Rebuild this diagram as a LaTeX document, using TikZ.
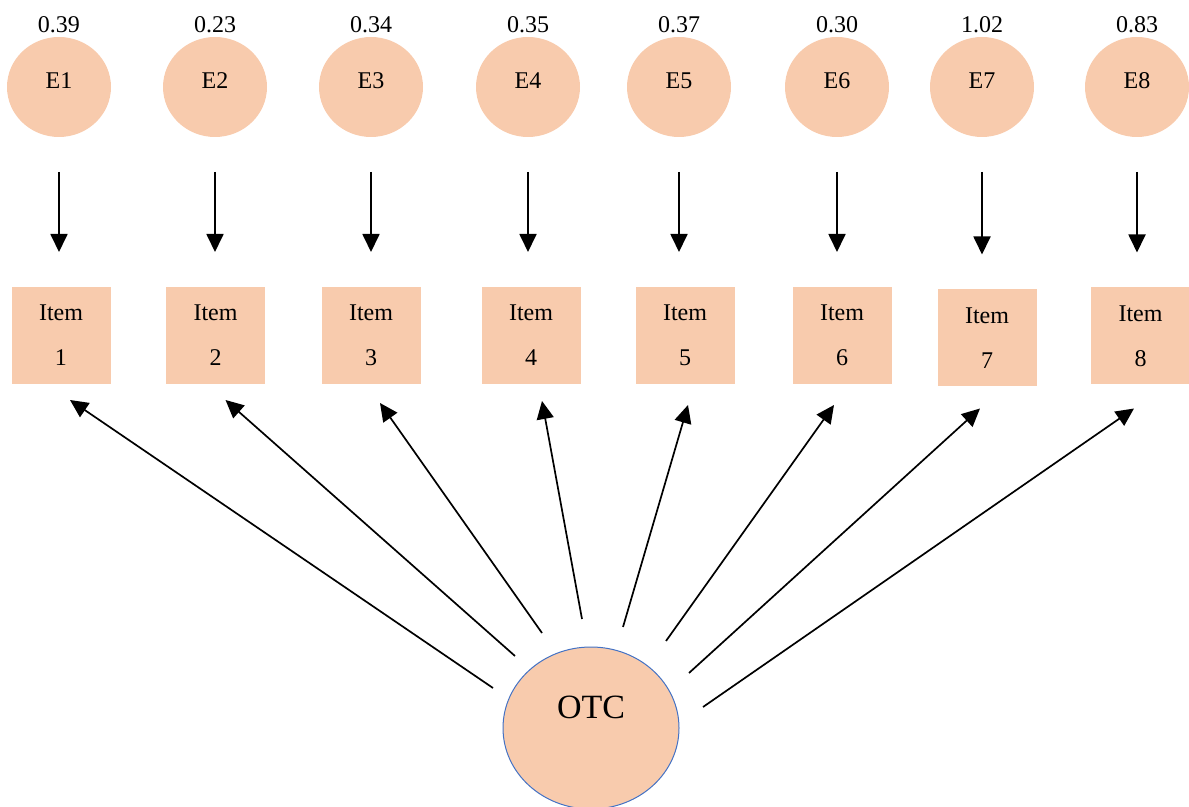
\documentclass[tikz,border=0pt]{standalone}
\usepackage{fontspec}
\setmainfont{Liberation Serif}
\usetikzlibrary{positioning,arrows.meta,shapes.geometric}
\definecolor{peach}{HTML}{F8CBAD}
\definecolor{rim}{HTML}{4472C4}
\tikzset{
    font = \fontsize{12}{14}\selectfont,
    every node/.style = {
        inner sep = 0pt,
        outer sep = 0pt
    },
    err/.style = {
        ellipse,
        fill = peach,
        minimum width = 52pt,
        minimum height = 50pt,
        text depth = 6pt
    },
    item/.style = {
        rectangle,
        fill = peach,
        minimum width = 49.5pt,
        minimum height = 48.5pt,
        align = center,
        font = \fontsize{12}{22.5}\selectfont
    },
    factor/.style = {
        ellipse,
        fill = peach,
        draw = rim,
        line width = 0.5pt,
        minimum width = 88pt,
        minimum height = 81pt,
        text depth = 21pt,
        font = \fontsize{17}{20}\selectfont
    },
    resid/.style = {
        -{Triangle[length=9pt,width=8.5pt]},
        line width = 0.9pt,
        shorten < = 17.5pt,
        shorten > = 17.5pt
    },
    load/.style = {
        -{Triangle[length=9pt,width=8.5pt]},
        line width = 0.85pt
    }
}

\begin{document}
\begin{tikzpicture}[x=0.5pt, y=-0.5pt]
    \useasboundingbox (0,0) rectangle (1189,807);
    % error terms
    \node (e1) at (59,87)   [err]{E1};
    \node (e2) at (215,87)  [err]{E2};
    \node (e3) at (371,87)  [err]{E3};
    \node (e4) at (528,87)  [err]{E4};
    \node (e5) at (679,87)  [err]{E5};
    \node (e6) at (837,87)  [err]{E6};
    \node (e7) at (982,87)  [err]{E7};
    \node (e8) at (1137,87) [err]{E8};
    % error variances
    \node (v1) [above=2pt of e1]{0.39};
    \node (v2) [above=2pt of e2]{0.23};
    \node (v3) [above=2pt of e3]{0.34};
    \node (v4) [above=2pt of e4]{0.35};
    \node (v5) [above=2pt of e5]{0.37};
    \node (v6) [above=2pt of e6]{0.30};
    \node (v7) [above=2pt of e7]{1.02};
    \node (v8) [above=2pt of e8]{0.83};
    % items
    \node (i1) at (61,335.5)   [item]{Item\\1};
    \node (i2) at (215.5,335.5)[item]{Item\\2};
    \node (i3) at (371,335.5)  [item]{Item\\3};
    \node (i4) at (531,335.5)  [item]{Item\\4};
    \node (i5) at (685,335.5)  [item]{Item\\5};
    \node (i6) at (842,335.5)  [item]{Item\\6};
    \node (i7) at (987,338)    [item]{Item\\7};
    \node (i8) at (1140.5,336) [item]{Item\\8};
    % latent factor
    \node (otc) at (591,728) [factor]{OTC};
    % error paths
    \draw[resid] (e1.south) to (e1.south |- i1.north);
    \draw[resid] (e2.south) to (e2.south |- i2.north);
    \draw[resid] (e3.south) to (e3.south |- i3.north);
    \draw[resid] (e4.south) to (e4.south |- i4.north);
    \draw[resid] (e5.south) to (e5.south |- i5.north);
    \draw[resid] (e6.south) to (e6.south |- i6.north);
    \draw[resid] (e7.south) to (e7.south |- i7.north);
    \draw[resid] (e8.south) to (e8.south |- i8.north);
    % loadings
    \coordinate (t1) at (493,688);
    \coordinate (t2) at (515,656);
    \coordinate (t3) at (542,633);
    \coordinate (t4) at (582,619);
    \coordinate (t5) at (623,627);
    \coordinate (t6) at (666,641);
    \coordinate (t7) at (689,673);
    \coordinate (t8) at (703,707);
    \draw[load] (t1) to ([xshift=4.5pt,yshift=-8pt]i1.south);
    \draw[load] (t2) to ([xshift=5pt,yshift=-8pt]i2.south);
    \draw[load] (t3) to ([xshift=4.5pt,yshift=-9.5pt]i3.south);
    \draw[load] (t4) to ([xshift=5.5pt,yshift=-8.5pt]i4.south);
    \draw[load] (t5) to ([xshift=1.5pt,yshift=-10.5pt]i5.south);
    \draw[load] (t6) to ([xshift=-4pt,yshift=-10.5pt]i6.south);
    \draw[load] (t7) to ([xshift=-3.5pt,yshift=-11pt]i7.south);
    \draw[load] (t8) to ([xshift=-3.25pt,yshift=-12pt]i8.south);
\end{tikzpicture}
\end{document}
